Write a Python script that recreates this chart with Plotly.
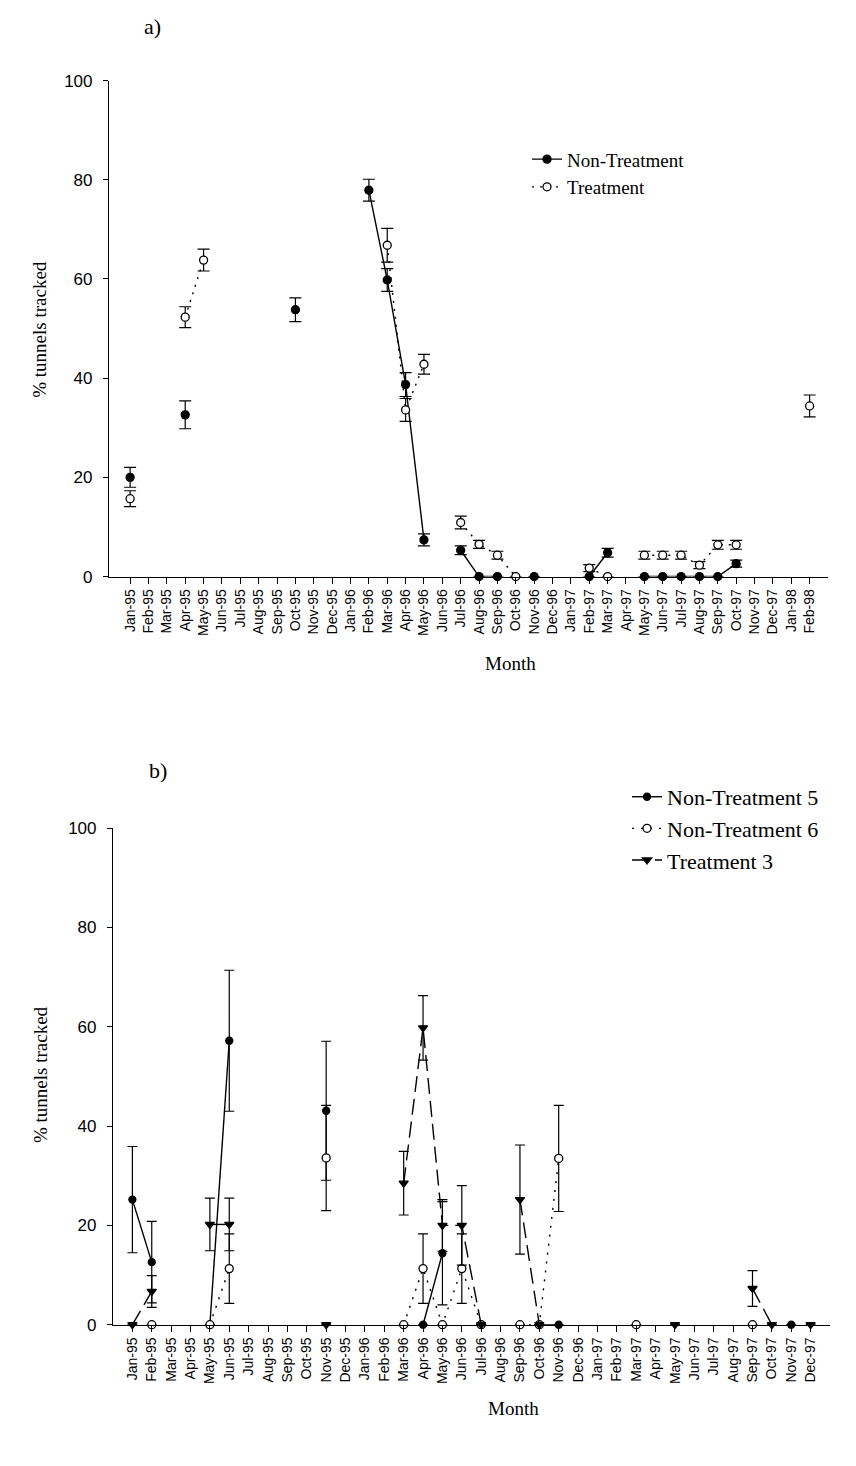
import plotly.graph_objects as go

# ---- month axes ----
months_a = ["Jan-95", "Feb-95", "Mar-95", "Apr-95", "May-95", "Jun-95", "Jul-95", "Aug-95",
            "Sep-95", "Oct-95", "Nov-95", "Dec-95", "Jan-96", "Feb-96", "Mar-96", "Apr-96",
            "May-96", "Jun-96", "Jul-96", "Aug-96", "Sep-96", "Oct-96", "Nov-96", "Dec-96",
            "Jan-97", "Feb-97", "Mar-97", "Apr-97", "May-97", "Jun-97", "Jul-97", "Aug-97",
            "Sep-97", "Oct-97", "Nov-97", "Dec-97", "Jan-98", "Feb-98"]
months_b = months_a[:36]

# ---- panel a: % tunnels tracked (missing month = not surveyed) ----
a_nontreat = {"Jan-95": 20.0, "Apr-95": 32.6, "Oct-95": 53.8, "Feb-96": 77.9, "Mar-96": 59.8,
              "Apr-96": 38.7, "May-96": 7.4, "Jul-96": 5.3, "Aug-96": 0, "Sep-96": 0,
              "Nov-96": 0, "Feb-97": 0, "Mar-97": 4.8, "May-97": 0, "Jun-97": 0,
              "Jul-97": 0, "Aug-97": 0, "Sep-97": 0, "Oct-97": 2.6}
a_nontreat_se = {"Jan-95": 2.0, "Apr-95": 2.8, "Oct-95": 2.4, "Feb-96": 2.2, "Mar-96": 2.3,
                 "Apr-96": 2.4, "May-96": 1.2, "Jul-96": 0.9, "Mar-97": 0.9, "Oct-97": 0.7}
a_treat = {"Jan-95": 15.7, "Apr-95": 52.3, "May-95": 63.8, "Mar-96": 66.8, "Apr-96": 33.6,
           "May-96": 42.8, "Jul-96": 10.9, "Aug-96": 6.5, "Sep-96": 4.3, "Oct-96": 0,
           "Feb-97": 1.7, "Mar-97": 0, "May-97": 4.3, "Jun-97": 4.3, "Jul-97": 4.3,
           "Aug-97": 2.3, "Sep-97": 6.4, "Oct-97": 6.4, "Feb-98": 34.4}
a_treat_se = {"Jan-95": 1.6, "Apr-95": 2.1, "May-95": 2.2, "Mar-96": 3.4, "Apr-96": 2.3,
              "May-96": 2.0, "Jul-96": 1.3, "Aug-96": 0.8, "Sep-96": 0.8, "Feb-97": 0.7,
              "May-97": 0.8, "Jun-97": 0.8, "Jul-97": 0.8, "Aug-97": 0.7, "Sep-97": 0.9,
              "Oct-97": 0.9, "Feb-98": 2.2}

# ---- panel b ----
b_nt5 = {"Jan-95": 25.2, "Feb-95": 12.6, "May-95": 0, "Jun-95": 57.2, "Nov-95": 43.1,
         "Apr-96": 0, "May-96": 14.4, "Jul-96": 0, "Oct-96": 0, "Nov-96": 0, "Nov-97": 0}
b_nt5_se = {"Jan-95": 10.7, "Feb-95": 8.2, "Jun-95": 14.2, "Nov-95": 14.0, "May-96": 10.4}
b_nt6 = {"Feb-95": 0, "May-95": 0, "Jun-95": 11.3, "Nov-95": 33.6, "Mar-96": 0,
         "Apr-96": 11.3, "May-96": 0, "Jun-96": 11.3, "Jul-96": 0, "Sep-96": 0,
         "Oct-96": 0, "Nov-96": 33.5, "Mar-97": 0, "Sep-97": 0}
b_nt6_se = {"Jun-95": 7.0, "Nov-95": 10.6, "Apr-96": 7.0, "Jun-96": 7.0, "Nov-96": 10.7}
b_t3 = {"Jan-95": 0, "Feb-95": 6.7, "May-95": 20.2, "Jun-95": 20.2, "Nov-95": 0,
        "Mar-96": 28.5, "Apr-96": 59.8, "May-96": 20.0, "Jun-96": 20.0, "Jul-96": 0,
        "Sep-96": 25.2, "Oct-96": 0, "May-97": 0, "Sep-97": 7.3, "Oct-97": 0, "Dec-97": 0}
b_t3_se = {"Feb-95": 3.2, "May-95": 5.3, "Jun-95": 5.3, "Mar-96": 6.4, "Apr-96": 6.5,
           "May-96": 5.2, "Jun-96": 8.0, "Sep-96": 11.0, "Sep-97": 3.6}

SERIF = "Liberation Serif"
SANS = "Liberation Sans"


def series(months, values, errors):
    x = list(range(len(months)))
    y = [values.get(m) for m in months]
    e = [errors.get(m, 0) if values.get(m) is not None else 0 for m in months]
    return x, y, e


def add_series(fig, months, values, errors, name, dash, symbol, fill, size, xa, ya, legend,
               cap):
    x, y, e = series(months, values, errors)
    fig.add_trace(go.Scatter(
        x=x, y=y, name=name, mode="lines+markers", connectgaps=False,
        xaxis=xa, yaxis=ya, legend=legend, cliponaxis=False,
        line=dict(color="black", width=1.4, dash=dash),
        marker=dict(symbol=symbol, size=size, color=fill,
                    line=dict(color="black", width=1.3)),
        error_y=dict(type="data", array=e, visible=True, color="black",
                     thickness=1.2, width=cap),
    ))


fig = go.Figure()

add_series(fig, months_a, a_nontreat, a_nontreat_se, "Non-Treatment", "solid", "circle",
           "black", 8, "x", "y", "legend", 6)
add_series(fig, months_a, a_treat, a_treat_se, "Treatment", "2px,6px", "circle",
           "white", 8, "x", "y", "legend", 6)

add_series(fig, months_b, b_nt5, b_nt5_se, "Non-Treatment 5", "solid", "circle",
           "black", 7, "x2", "y2", "legend2", 5)
add_series(fig, months_b, b_nt6, b_nt6_se, "Non-Treatment 6", "2px,7px", "circle",
           "white", 8, "x2", "y2", "legend2", 5)
add_series(fig, months_b, b_t3, b_t3_se, "Treatment 3", "16px,7px", "triangle-down",
           "black", 8, "x2", "y2", "legend2", 5)

W, H = 856, 1466


def px_x(p):
    return p / W


def px_y(p):
    return 1 - p / H


axis_common = dict(showline=True, linecolor="black", linewidth=1.2, ticks="outside",
                   tickcolor="black", showgrid=False, zeroline=False, mirror=False)

fig.update_layout(
    width=W, height=H, margin=dict(l=0, r=0, t=0, b=0),
    paper_bgcolor="white", plot_bgcolor="white",
    xaxis=dict(domain=[px_x(109), px_x(828)], range=[-1.15, 38.0], anchor="y",
               tickmode="array", tickvals=list(range(len(months_a))), ticktext=months_a,
               tickangle=-90, ticklen=6, tickfont=dict(family=SANS, size=14, color="black"),
               **axis_common),
    yaxis=dict(domain=[px_y(575), px_y(72.5)], range=[0, 100], anchor="x",
               tickmode="array", tickvals=[0, 20, 40, 60, 80, 100], ticklen=5,
               ticklabelstandoff=7,
               tickfont=dict(family=SANS, size=17, color="black"), **axis_common),
    xaxis2=dict(domain=[px_x(113), px_x(830)], range=[-1.0, 36.0], anchor="y2",
                tickmode="array", tickvals=list(range(len(months_b))), ticktext=months_b,
                tickangle=-90, ticklen=6, tickfont=dict(family=SANS, size=14, color="black"),
                **axis_common),
    yaxis2=dict(domain=[px_y(1333), px_y(830)], range=[0, 100], anchor="x2",
                tickmode="array", tickvals=[0, 20, 40, 60, 80, 100], ticklen=5,
                ticklabelstandoff=7,
                tickfont=dict(family=SANS, size=17, color="black"), **axis_common),
    legend=dict(x=px_x(527), y=px_y(133), xanchor="left", yanchor="top",
                font=dict(family=SERIF, size=19, color="black"),
                bgcolor="rgba(0,0,0,0)", tracegroupgap=0),
    legend2=dict(x=px_x(627), y=px_y(777), xanchor="left", yanchor="top",
                 font=dict(family=SERIF, size=22, color="black"),
                 bgcolor="rgba(0,0,0,0)", tracegroupgap=0),
    showlegend=True,
)

# Panel letters and axis titles
notes = [
    dict(text="a)", x=px_x(152), y=px_y(18), size=22),
    dict(text="b)", x=px_x(158), y=px_y(772), size=22),
    dict(text="Month", x=px_x(510), y=px_y(663), size=19),
    dict(text="Month", x=px_x(513), y=px_y(1418), size=19),
]
for n in notes:
    fig.add_annotation(text=n["text"], x=n["x"], y=n["y"], xref="paper", yref="paper",
                       showarrow=False, xanchor="center", yanchor="middle",
                       font=dict(family=SERIF, size=n["size"], color="black"))
for yc in (325, 1080):
    fig.add_annotation(text="% tunnels tracked", x=px_x(40), y=px_y(yc), xref="paper",
                       yref="paper", showarrow=False, textangle=-90, xanchor="center",
                       yanchor="middle", font=dict(family=SERIF, size=19, color="black"))

fig.write_html("out.html")
